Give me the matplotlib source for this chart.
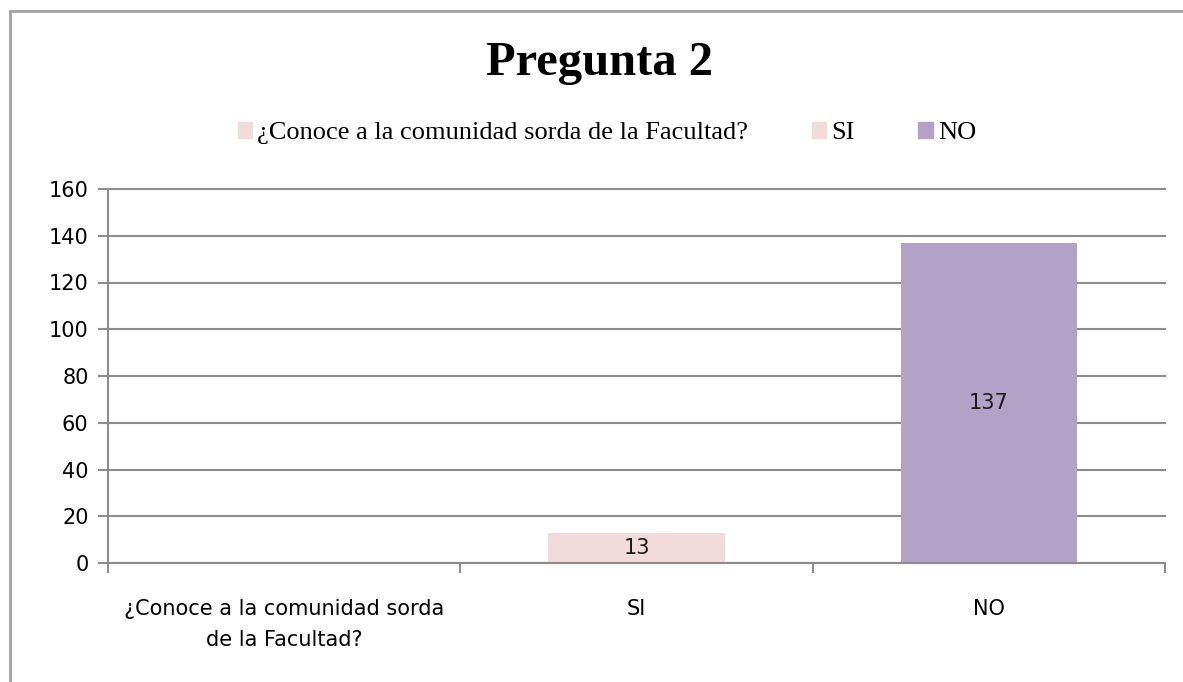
import matplotlib.pyplot as plt
from matplotlib.patches import Rectangle

# data
categories = ["¿Conoce a la comunidad sorda\nde la Facultad?", "SI", "NO"]
series_names = ["¿Conoce a la comunidad sorda de la Facultad?", "SI", "NO"]
values = [0, 13, 137]
colors = ["#F2DCDB", "#F2DCDB", "#B3A2C7"]
yticks = [0, 20, 40, 60, 80, 100, 120, 140, 160]

GRID = "#8C8C8C"

fig = plt.figure(figsize=(11.83, 6.82), dpi=100)
ax = fig.add_axes([108 / 1183, 1 - 563 / 682, (1165 - 108) / 1183, (563 - 189) / 682])

# outer chart frame (runs off right and bottom of the image)
fig.patches.append(Rectangle((10 / 1183, -0.2), 1.2, 1.2 - 11 / 682,
                             transform=fig.transFigure, fill=False,
                             edgecolor="#A0A0A0", linewidth=2))

x = list(range(len(categories)))
for i in x:
    if values[i] > 0:
        ax.bar(i, values[i], width=0.5, color=colors[i], zorder=3)
        ax.text(i, values[i] / 2, str(values[i]), ha="center", va="center",
                fontsize=15, family="DejaVu Sans", color="#1A1A1A", zorder=4)

ax.set_xlim(-0.5, 2.5)
ax.set_ylim(0, 160)
ax.set_yticks(yticks)
ax.set_yticklabels([str(t) for t in yticks], fontsize=15)
ax.set_xticks(x)
ax.set_xticklabels(categories, fontsize=15, linespacing=1.65)
ax.set_xticks([-0.5, 0.5, 1.5, 2.5], minor=True)
ax.tick_params(axis="x", which="major", length=0, pad=26)
ax.tick_params(axis="x", which="minor", length=7, width=1.5, color=GRID)
ax.tick_params(axis="y", length=7, width=1.5, color=GRID, pad=7)

ax.grid(axis="y", color=GRID, linewidth=1.5, zorder=0)
for line in ax.get_ygridlines():
    line.set_clip_on(False)
for s in ["top", "right"]:
    ax.spines[s].set_visible(False)
for s in ["left", "bottom"]:
    ax.spines[s].set_color(GRID)
    ax.spines[s].set_linewidth(1.5)
    ax.spines[s].set_zorder(5)

fig.text(600 / 1183, 1 - 63 / 682, "Pregunta 2", ha="center", va="center",
         fontsize=35, fontweight="bold", family="Liberation Serif")

handles = [Rectangle((0, 0), 1, 1, color=c) for c in colors]
fig.legend(handles, series_names, loc="center", bbox_to_anchor=(607 / 1183, 1 - 133 / 682),
           ncol=3, frameon=False, handlelength=0.55, handleheight=0.55,
           handletextpad=0.2, columnspacing=2.4,
           prop={"family": "Liberation Serif", "size": 19})

fig.savefig("out.png", dpi=100)
